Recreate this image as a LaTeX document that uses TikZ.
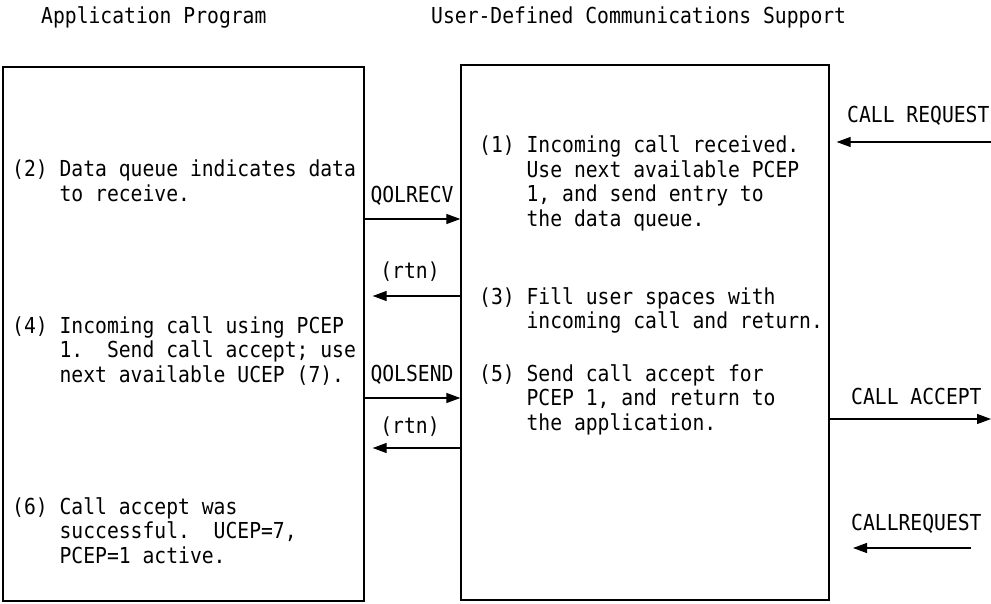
\documentclass[tikz,border=0pt]{standalone}
\usepackage{fontspec}
\newfontfamily\dmono[FakeStretch=0.895]{DejaVu Sans Mono}
\usetikzlibrary{arrows.meta}
\newcommand\paralines[1]{\vtop{\let\\\cr\halign{##\hfil\cr#1\crcr}}}
\newcommand\ind{\hphantom{(0)~}}
\tikzset{
  txt/.style={inner sep=0pt, anchor=base west, font=\dmono\fontsize{22}{24.5}\selectfont\frenchspacing},
  box/.style={draw, line width=1.3pt, inner sep=0pt},
  arr/.style={line width=1.2pt, -{Triangle[length=14pt,width=10pt]}}
}
\begin{document}
\begin{tikzpicture}[x=1pt,y=-1pt]
\useasboundingbox (0,0) rectangle (991,604);
% titles
\node[txt] (t1) at (41,24) {Application Program};
\node[txt] (t2) at (431,24) {User-Defined Communications Support};
% boxes
\node[box, minimum width=361pt, minimum height=534pt] (L) at (183.5,334) {};
\node[box, minimum width=368pt, minimum height=535pt] (R) at (645,332.5) {};
% left texts
\node[txt] (p2) at (12,177) {\paralines{(2) Data queue indicates data\\\ind to receive.}};
\node[txt] (p4) at (12,333) {\paralines{(4) Incoming call using PCEP\\\ind 1.~~Send call accept; use\\\ind next available UCEP (7).}};
\node[txt] (p6) at (12,514) {\paralines{(6) Call accept was\\\ind successful.~~UCEP=7,\\\ind PCEP=1 active.}};
% right texts
\node[txt] (p1) at (479,153) {\paralines{(1) Incoming call received.\\\ind Use next available PCEP\\\ind 1, and send entry to\\\ind the data queue.}};
\node[txt] (p3) at (479,304) {\paralines{(3) Fill user spaces with\\\ind incoming call and return.}};
\node[txt] (p5) at (479,381) {\paralines{(5) Send call accept for\\\ind PCEP 1, and return to\\\ind the application.}};
% middle labels
\node[txt, anchor=base] (l1) at (412,203) {QOLRECV};
\node[txt, anchor=base] (l2) at (410,279) {(rtn)};
\node[txt, anchor=base] (l3) at (412,381) {QOLSEND};
\node[txt, anchor=base] (l4) at (410,433) {(rtn)};
% middle arrows
\draw[arr] (L.east |- 0,219) -- (R.west |- 0,219);
\draw[arr, shorten >=8pt] (R.west |- 0,296) -- (L.east |- 0,296);
\draw[arr] (L.east |- 0,398) -- (R.west |- 0,398);
\draw[arr, shorten >=8pt] (R.west |- 0,448) -- (L.east |- 0,448);
% external
\node[txt] (e1) at (847,123) {CALL REQUEST};
\node[txt] (e2) at (851,404) {CALL ACCEPT};
\node[txt] (e3) at (851,530) {CALLREQUEST};
\coordinate (c1) at (991,142);
\coordinate (c2) at (991,419);
\coordinate (c3a) at (971,548);
\coordinate (c3b) at (853,548);
\draw[arr, shorten >=7pt] (c1) -- (R.east |- c1);
\draw[arr] (R.east |- c2) -- (c2);
\draw[arr] (c3a) -- (c3b);
\end{tikzpicture}
\end{document}
